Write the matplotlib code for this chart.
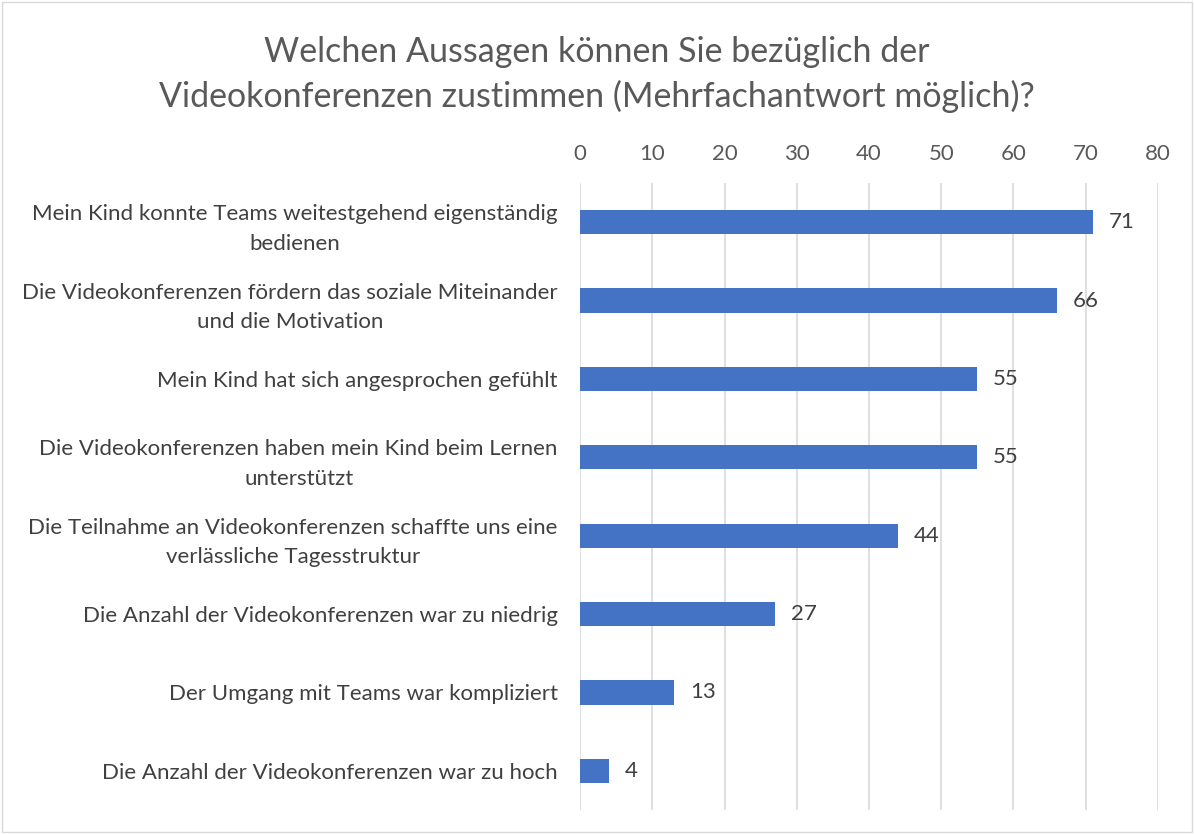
import numpy as np
import matplotlib.pyplot as plt

categories = [
    "Mein Kind konnte Teams weitestgehend eigenständig\nbedienen",
    "Die Videokonferenzen fördern das soziale Miteinander\nund die Motivation",
    "Mein Kind hat sich angesprochen gefühlt",
    "Die Videokonferenzen haben mein Kind beim Lernen\nunterstützt",
    "Die Teilnahme an Videokonferenzen schaffte uns eine\nverlässliche Tagesstruktur",
    "Die Anzahl der Videokonferenzen war zu niedrig",
    "Der Umgang mit Teams war kompliziert",
    "Die Anzahl der Videokonferenzen war zu hoch",
]
values = [71, 66, 55, 55, 44, 27, 13, 4]
xticks = [0, 10, 20, 30, 40, 50, 60, 70, 80]

plt.rcParams['font.family'] = ['Lato', 'DejaVu Sans']
grey = '#595959'
dark = '#404040'

fig = plt.figure(figsize=(11.94, 8.34), dpi=100)
ax = fig.add_axes([0.4858, 0.0288, 0.484, 0.7518])

y = np.arange(len(categories))
ax.barh(y, values, height=0.31, color='#4472C4', zorder=3)
for yi, v in zip(y, values):
    ax.text(v + 2.2, yi, str(v), va='center', ha='left', fontsize=16, color=dark)

ax.set_xlim(0, 80)
ax.set_ylim(len(categories) - 0.5, -0.5)
ax.set_xticks(xticks)
ax.xaxis.tick_top()
ax.set_yticks(y)
ax.set_yticklabels(categories, fontsize=16, color=dark, linespacing=1.6,
                   multialignment='center')
ax.tick_params(axis='x', length=0, pad=14, labelsize=16, labelcolor=grey)
ax.tick_params(axis='y', length=0, pad=16)
ax.grid(axis='x', color='#d9d9d9', linewidth=1.2, zorder=0)
for s in ax.spines.values():
    s.set_visible(False)

fig.text(0.5, 0.911, "Welchen Aussagen können Sie bezüglich der\nVideokonferenzen zustimmen (Mehrfachantwort möglich)?",
         ha='center', va='center', fontsize=24.5, color=grey, linespacing=1.45)

fig.patches.append(plt.Rectangle((0.002, 0.002), 0.996, 0.996, transform=fig.transFigure,
                                 fill=False, edgecolor='#d9d9d9', linewidth=1))

fig.savefig('out.png', dpi=100)
